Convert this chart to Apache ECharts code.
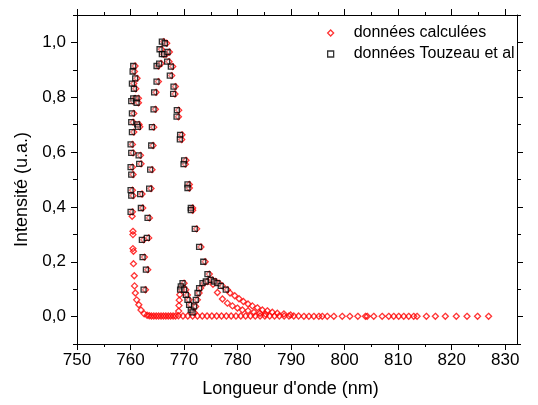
<!DOCTYPE html>
<html>
<head>
<meta charset="utf-8">
<script src="https://cdn.jsdelivr.net/npm/echarts@6/dist/echarts.min.js"></script>
<style>html,body{margin:0;padding:0;background:#fff}#c{width:538px;height:405px}</style>
</head>
<body>
<div id="c"></div>
<script>
// Axis ticks
const xMajor = [750, 760, 770, 780, 790, 800, 810, 820, 830];
const xMinor = [755, 765, 775, 785, 795, 805, 815, 825];
const yMajor = [0.0, 0.2, 0.4, 0.6, 0.8, 1.0];
const yMinor = [-0.1, 0.1, 0.3, 0.5, 0.7, 0.9, 1.1];

// données Touzeau et al  [wavelength (nm), intensity]
const touzeau = [
 [760.50,0.914],[760.39,0.894],[760.87,0.869],[760.26,0.850],[760.63,0.831],[760.50,0.796],[761.13,0.796],[760.13,0.786],[761.13,0.780],[760.26,0.741],
 [760.13,0.709],[761.24,0.701],[761.38,0.692],[760.26,0.673],[760.01,0.628],[760.13,0.597],[761.51,0.588],[761.62,0.557],[760.01,0.545],[760.13,0.518],
 [760.01,0.461],[760.13,0.441],[761.80,0.447],[760.01,0.382],[761.93,0.396],[762.12,0.280],[762.25,0.217],[762.44,0.098],[762.87,0.171],[763.05,0.287],
 [763.18,0.360],[763.48,0.467],[763.67,0.536],[763.86,0.624],[763.99,0.691],[764.30,0.756],[764.41,0.818],[764.86,0.857],[764.86,0.914],[765.35,0.923],
 [765.42,0.975],[765.85,1.003],[766.41,0.997],[765.85,0.957],[766.28,0.957],[766.91,0.965],[766.84,0.930],[767.53,0.912],[767.34,0.879],[768.03,0.839],
 [767.96,0.812],[768.65,0.753],[768.60,0.729],[769.26,0.663],[769.21,0.646],[770.01,0.570],[769.90,0.556],[770.64,0.482],[770.64,0.469],[771.26,0.396],
 [771.26,0.388],[772.00,0.320],[772.81,0.254],[773.59,0.200],[774.37,0.155],
 [769.71,0.122],[769.39,0.110],[769.26,0.098],[770.01,0.098],[770.33,0.079],[770.64,0.061],[770.94,0.043],[771.26,0.024],[771.58,0.015],[771.87,0.037],
 [772.19,0.061],[772.51,0.086],[772.81,0.104],[773.44,0.122],[774.06,0.128],[774.99,0.134],[775.60,0.128],[776.23,0.122],[776.85,0.112],[777.79,0.098]
];

// données calculées  [wavelength (nm), intensity]
const calculees = [
 [760.85,0.914],[760.74,0.894],[761.22,0.869],[760.61,0.850],[760.98,0.831],[760.85,0.796],[761.48,0.796],[760.48,0.786],[761.48,0.780],[760.61,0.741],
 [760.48,0.709],[761.59,0.701],[761.73,0.692],[760.61,0.673],[760.36,0.628],[760.48,0.597],[761.86,0.588],[761.97,0.557],[760.36,0.545],[760.48,0.518],
 [760.36,0.461],[760.48,0.441],[762.15,0.447],[760.36,0.382],[762.28,0.396],[762.47,0.280],[762.60,0.217],[762.79,0.098],[763.22,0.171],[763.40,0.287],
 [763.53,0.360],[763.83,0.467],[764.02,0.536],[764.21,0.624],[764.34,0.691],[764.65,0.756],[764.76,0.818],[765.21,0.857],[765.21,0.914],[765.70,0.923],
 [765.77,0.975],[766.20,1.003],[766.76,0.997],[766.20,0.957],[766.63,0.957],[767.26,0.965],[767.19,0.930],[767.88,0.912],[767.69,0.879],[768.38,0.839],
 [768.31,0.812],[769.00,0.753],[768.95,0.729],[769.61,0.663],[769.56,0.646],[770.36,0.570],[770.25,0.556],[770.99,0.482],[770.99,0.469],[771.61,0.396],
 [771.61,0.388],[772.35,0.320],[773.16,0.254],[773.94,0.200],[774.72,0.155],[775.40,0.118],
 [776.24,0.088],[777.17,0.064],[778.10,0.049],[779.04,0.039],[779.97,0.031],[780.90,0.024],[781.95,0.021],[783.06,0.016],[784.18,0.012],[785.24,0.009],
 [760.30,0.366],[760.45,0.311],[760.45,0.299],[760.45,0.248],[760.55,0.238],[760.55,0.193],[760.70,0.149],[760.75,0.112],[760.90,0.086],[761.15,0.061],
 [761.55,0.043],[761.95,0.024],[762.55,0.010],[763.10,0.005],[763.50,0.003],
 [763.90,0.002],[764.35,0.002],[764.80,0.002],[765.25,0.002],[765.70,0.002],[766.15,0.002],[766.60,0.002],[767.05,0.002],[767.50,0.002],[767.95,0.002],
 [768.40,0.002],[768.95,0.003],[769.00,0.020],[769.05,0.040],[769.10,0.060],[769.20,0.080],
 [770.01,0.122],[769.69,0.110],[769.56,0.098],[770.31,0.098],[770.63,0.079],[770.94,0.061],[771.24,0.043],[771.56,0.024],[771.88,0.015],[772.17,0.037],
 [772.49,0.061],[772.81,0.086],[773.11,0.104],[773.74,0.122],[774.36,0.128],[775.29,0.134],[775.90,0.128],[776.53,0.122],[777.15,0.112],[778.09,0.098],
 [778.59,0.086],[779.47,0.076],[780.27,0.065],[781.08,0.055],[781.95,0.046],[782.76,0.039],[783.70,0.032],[784.63,0.024],[785.56,0.021],[786.49,0.016],
 [787.43,0.012],[788.66,0.010],[789.91,0.006],
 [769.80,0.002],[770.70,0.002],[771.60,0.002],[772.50,0.002],[773.40,0.002],[774.30,0.002],[775.20,0.002],[776.10,0.002],[777.00,0.002],[777.90,0.002],
 [778.80,0.002],[779.70,0.002],[780.60,0.002],[781.50,0.002],[782.40,0.002],[783.30,0.002],[784.20,0.002],[785.10,0.002],[786.00,0.002],[786.90,0.002],
 [787.80,0.002],[788.70,0.002],[789.60,0.002],[790.50,0.002],[791.40,0.002],
 [792.39,0.001],[793.32,0.001],[794.25,0.001],[795.18,0.001],[795.82,0.001],[796.75,0.001],[797.98,0.001],[799.55,0.001],[800.97,0.001],[802.46,0.001],
 [803.89,0.001],[804.21,0.001],[805.44,0.001],[807.01,0.001],[808.24,0.001],[809.17,0.001],[810.10,0.001],[811.04,0.001],[811.97,0.001],[812.90,0.001],
 [813.53,0.001],[815.27,0.001],[816.95,0.001],[818.81,0.001],[820.86,0.001],[822.86,0.001],[824.83,0.001],[826.89,0.001]
];

const seriesNames = ['données calculées', 'données Touzeau et al'];
const FONT = '"Liberation Sans", Arial, sans-serif';
const fmt = v => v.toFixed(1).replace('.', ',');
const X_MIN = 750, X_MAX = 832.2, Y_MIN = -0.1, Y_MAX = 1.1;

const chart = echarts.init(document.getElementById('c'), null, {renderer: 'canvas'});
const line = {show: true, onZero: false, lineStyle: {color: '#000', width: 1}};
const noLine = {show: false, onZero: false};
const tickStyle = {color: '#000', width: 1};

function xAx(pos, ticks, len, labels, extra) {
  return Object.assign({
    type: 'value', position: pos, min: X_MIN, max: X_MAX, offset: 0,
    axisLine: labels !== null ? line : noLine, splitLine: {show: false},
    axisTick: {show: true, inside: false, length: len, customValues: ticks, lineStyle: tickStyle},
    axisLabel: labels ? labels : {show: false}
  }, extra || {});
}
function yAx(pos, ticks, len, labels, extra) {
  return Object.assign({
    type: 'value', position: pos, min: Y_MIN, max: Y_MAX, offset: 0,
    axisLine: labels !== null ? line : noLine, splitLine: {show: false},
    axisTick: {show: true, inside: false, length: len, customValues: ticks, lineStyle: tickStyle},
    axisLabel: labels ? labels : {show: false}
  }, extra || {});
}

chart.setOption({
  animation: false,
  backgroundColor: '#fff',
  grid: {left: 77, right: 21, top: 15, bottom: 61, containLabel: false},
  legend: {
    orient: 'vertical', left: 322, top: 20, itemGap: 5,
    itemWidth: 6, itemHeight: 6, selectedMode: false,
    textStyle: {fontFamily: FONT, fontSize: 16, color: '#000', padding: [0, 0, 0, 15]},
    data: [
      {name: seriesNames[0], icon: 'diamond', itemStyle: {color: 'rgba(0,0,0,0)', borderColor: '#ff0000', borderWidth: 1.3}},
      {name: seriesNames[1], icon: 'rect', itemStyle: {color: 'rgba(0,0,0,0)', borderColor: '#000', borderWidth: 1.3}}
    ]
  },
  xAxis: [
    xAx('bottom', xMajor, 6, {customValues: xMajor, margin: 8, fontFamily: FONT, fontSize: 17, color: '#000'},
      {name: "Longueur d'onde (nm)", nameLocation: 'middle', nameGap: 36,
       nameTextStyle: {fontFamily: FONT, fontSize: 18, color: '#000', padding: [0, 13, 0, 0]}}),
    xAx('bottom', xMinor, 3, null),
    xAx('top', xMajor, 6, false),
    xAx('top', xMinor, 3, null)
  ],
  yAxis: [
    yAx('left', yMajor, 6, {customValues: yMajor, formatter: fmt, margin: 11, fontFamily: FONT, fontSize: 17, color: '#000'},
      {name: 'Intensité (u.a.)', nameLocation: 'middle', nameGap: 46,
       nameTextStyle: {fontFamily: FONT, fontSize: 18, color: '#000', padding: [0, 20, 0, 0]}}),
    yAx('left', yMinor, 4, null),
    yAx('right', yMajor, 6, false),
    yAx('right', yMinor, 4, null)
  ],
  series: [
    {name: seriesNames[0], type: 'scatter', data: calculees, symbol: 'diamond', symbolSize: 6,
     itemStyle: {color: 'rgba(0,0,0,0)', borderColor: '#ff0000', borderWidth: 1.3}, z: 2},
    {name: seriesNames[1], type: 'scatter', data: touzeau, symbol: 'rect', symbolSize: 5,
     itemStyle: {color: 'rgba(220,220,220,0.5)', borderColor: '#000', borderWidth: 1.3}, z: 3}
  ]
});
</script>
</body>
</html>
